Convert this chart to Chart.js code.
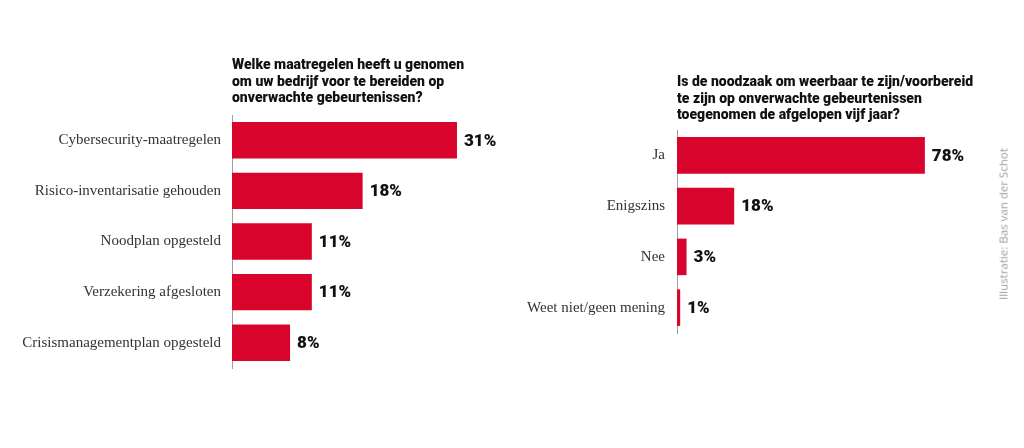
<!DOCTYPE html>
<html>
<head>
<meta charset="utf-8">
<script src="https://cdn.jsdelivr.net/npm/chart.js@4.4.1/dist/chart.umd.min.js"></script>
<style>
  html, body { margin: 0; padding: 0; background: #fff; }
  #wrap { position: relative; width: 1024px; height: 448px; overflow: hidden; }
  canvas { position: absolute; top: 0; }
  #c1 { left: 0; }
  #c2 { left: 512px; }
  #credit {
    position: absolute; left: 1003px; top: 224px;
    transform: translate(-50%, -50%) rotate(-90deg);
    font: 11.5px "Open Sans", sans-serif; color: #9a9a9a; white-space: nowrap;
  }
</style>
</head>
<body>
<div id="wrap">
  <canvas id="c1" width="512" height="448"></canvas>
  <canvas id="c2" width="512" height="448"></canvas>
  <div id="credit">Illustratie: Bas van der Schot</div>
</div>
<script>
// --- data ---
const title1 = ['Welke maatregelen heeft u genomen', 'om uw bedrijf voor te bereiden op', 'onverwachte gebeurtenissen?'];
const labels1 = ['Cybersecurity-maatregelen', 'Risico-inventarisatie gehouden', 'Noodplan opgesteld', 'Verzekering afgesloten', 'Crisismanagementplan opgesteld'];
const values1 = [31, 18, 11, 11, 8];

const title2 = ['Is de noodzaak om weerbaar te zijn/voorbereid', 'te zijn op onverwachte gebeurtenissen', 'toegenomen de afgelopen vijf jaar?'];
const labels2 = ['Ja', 'Enigszins', 'Nee', 'Weet niet/geen mening'];
const values2 = [78, 18, 3, 1];

const RED = '#d9042b';

// draws title lines above the plot and the % labels next to the bars
const extrasPlugin = {
    id: 'extras',
    afterDraw(chart, args, opts) {
        const ctx = chart.ctx;
        const area = chart.chartArea;
        ctx.save();
        ctx.fillStyle = '#111';
        ctx.font = '900 14px Roboto, sans-serif';
        ctx.textAlign = 'left';
        ctx.textBaseline = 'alphabetic';
        opts.lines.forEach((line, i) => {
            ctx.fillText(line, area.left, area.top - opts.titleGap + i * 16.7);
        });

        ctx.font = '900 17px Roboto, sans-serif';
        ctx.textBaseline = 'middle';
        const meta = chart.getDatasetMeta(0);
        meta.data.forEach((bar, i) => {
            ctx.fillText(chart.data.datasets[0].data[i] + '%', bar.x + 7, bar.y + 1);
        });
        ctx.restore();
    }
};

function makeChart(id, labels, values, lines, opt) {
    return new Chart(document.getElementById(id), {
        type: 'bar',
        data: {
            labels: labels,
            datasets: [{
                data: values,
                backgroundColor: RED,
                borderWidth: 0,
                categoryPercentage: 1,
                barPercentage: 0.72
            }]
        },
        options: {
            indexAxis: 'y',
            responsive: false,
            animation: false,
            layout: { padding: { top: opt.top, bottom: opt.bottom, right: opt.right, left: 0 } },
            plugins: {
                legend: { display: false },
                tooltip: { enabled: false },
                extras: { lines: lines, titleGap: opt.titleGap }
            },
            scales: {
                x: { display: false, min: 0, max: opt.max },
                y: {
                    grid: { display: false, drawTicks: false },
                    border: { display: true, color: '#a0a0a0', width: 1 },
                    ticks: {
                        color: '#333',
                        padding: opt.tickPad,
                        font: { family: '"Liberation Serif", serif', size: 15 }
                    },
                    afterFit(scale) { scale.width = opt.axisX; }
                }
            }
        },
        plugins: [extrasPlugin]
    });
}

makeChart('c1', labels1, values1, title1, { top: 115, bottom: 80, right: 26, max: 35, axisX: 232, tickPad: 11, titleGap: 46 });
makeChart('c2', labels2, values2, title2, { top: 130, bottom: 115, right: 61, max: 90, axisX: 165, tickPad: 12, titleGap: 44 });
</script>
</body>
</html>
